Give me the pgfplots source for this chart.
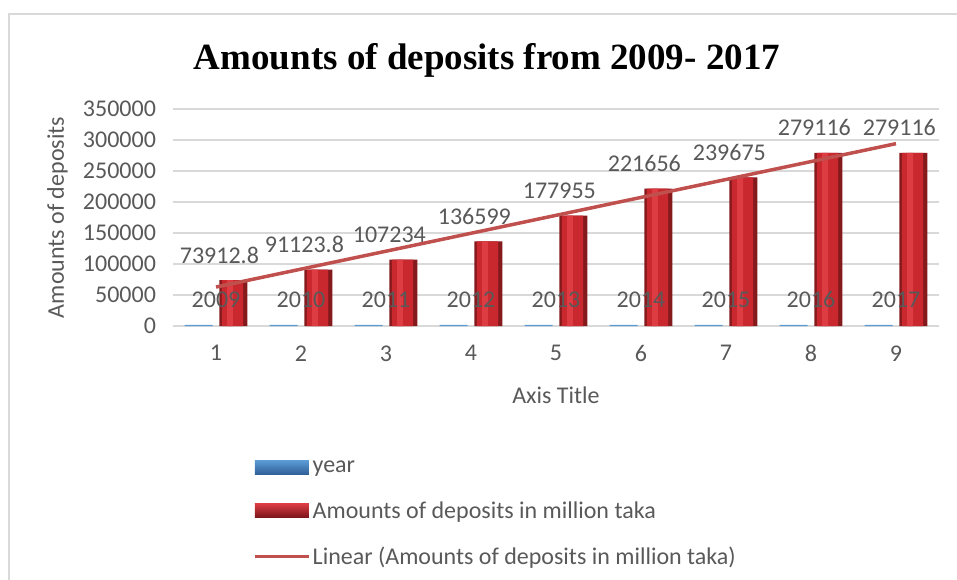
\documentclass[border=0pt]{standalone}
\usepackage{pgfplots}
\pgfplotsset{compat=1.18}
\usepackage{pgfplotstable}
\usepackage{fontspec}
\setmainfont{Carlito}
\newfontfamily\titlefont{Liberation Serif}
\definecolor{txt}{HTML}{595959}
\definecolor{gridc}{HTML}{D9D9D9}
\definecolor{trend}{HTML}{C0504D}
\definecolor{redD}{HTML}{851A1D}
\definecolor{redM}{HTML}{C8282E}
\definecolor{redH}{HTML}{DD3C43}
\definecolor{redR}{HTML}{7A1518}
\definecolor{blueD}{HTML}{2F5F98}
\definecolor{blueM}{HTML}{5B9BD5}

\pgfplotstableread{
x year dep
1 2009 73912.8
2 2010 91123.8
3 2011 107234
4 2012 136599
5 2013 177955
6 2014 221656
7 2015 239675
8 2016 279116
9 2017 279116
}\data

\begin{document}
\begin{tikzpicture}[font=\fontsize{24bp}{29bp}\selectfont]
\useasboundingbox (-173.5bp,-254bp) rectangle (783.5bp,326bp);
\draw[gridc, line width=2bp] (-164.5bp,-280bp) |- (800bp,312bp);
\begin{axis}[
  at={(0,0)}, anchor=south west,
  scale only axis, width=765bp, height=217bp,
  xmin=0.5, xmax=9.5, ymin=0, ymax=350000,
  xtick={1,...,9}, ytick={0,50000,...,350000},
  scaled y ticks=false,
  /pgf/number format/assume math mode=true,
  yticklabel style={/pgf/number format/fixed, /pgf/number format/1000 sep={}, anchor=east, xshift=-14bp},
  xticklabel style={yshift=-16bp},
  ticklabel style={text=txt},
  axis line style={draw=none},
  tick style={draw=none},
  major tick length=0pt,
  ymajorgrids, grid style={gridc, line width=1.3bp},
  xlabel={Axis Title}, ylabel={Amounts of deposits},
  every axis x label/.style={at={(axis description cs:0.5,0)}, anchor=center, yshift=-69bp, text=txt},
  every axis y label/.style={at={(axis description cs:0,0.5)}, anchor=center, xshift=-116bp, rotate=90, text=txt},
  legend style={at={(axis description cs:0.1,-0.602)}, anchor=north west, draw=none, fill=none, text=txt, row sep=23.5bp},
  legend cell align=left,
]
\addplot[ybar, bar width=0.33, bar shift=-0.205, draw=none, fill=blueM,
  legend image code/.code={\shade[top color=blueM, bottom color=blueD] (0bp,-7bp) rectangle (54bp,7bp);}]
  table[x=x, y=year] {\data};
\addlegendentry{year}
\addplot[ybar, bar width=0.33, bar shift=0.205, draw=none, fill=redD,
  legend image code/.code={\shade[top color=redH, bottom color=redR] (0bp,-7bp) rectangle (54bp,7bp);}]
  table[x=x, y=dep] {\data};
\addlegendentry{Amounts of deposits in million taka}
\addplot[forget plot, ybar, bar width=0.25, bar shift=0.195, draw=none, fill=redM]
  table[x=x, y=dep] {\data};
\addplot[forget plot, ybar, bar width=0.07, bar shift=0.165, draw=none, fill=redH,
  nodes near coords, point meta=explicit symbolic,
  every node near coord/.append style={anchor=center, xshift=3.4bp, yshift=25bp, text=txt}]
  table[x=x, y=dep, meta=dep] {\data};
\addplot[trend, line width=3.5bp, no marks,
  legend image code/.code={\draw[trend, line width=3.5bp] (0bp,0bp) -- (54bp,0bp);}]
  table[x=x, y={create col/linear regression={y=dep}}] {\data};
\addlegendentry{Linear (Amounts of deposits in million taka)}
\addplot[forget plot, ybar, bar width=0.33, bar shift=-0.205, draw=none, fill=none,
  nodes near coords, point meta=explicit symbolic,
  every node near coord/.append style={anchor=center, yshift=25bp, text=txt}]
  table[x=x, y=year, meta=year] {\data};
\end{axis}
\node[anchor=base, font=\fontsize{37bp}{40bp}\selectfont\titlefont\bfseries] at (313.5bp,256bp) {Amounts of deposits from 2009- 2017};
\end{tikzpicture}
\end{document}
